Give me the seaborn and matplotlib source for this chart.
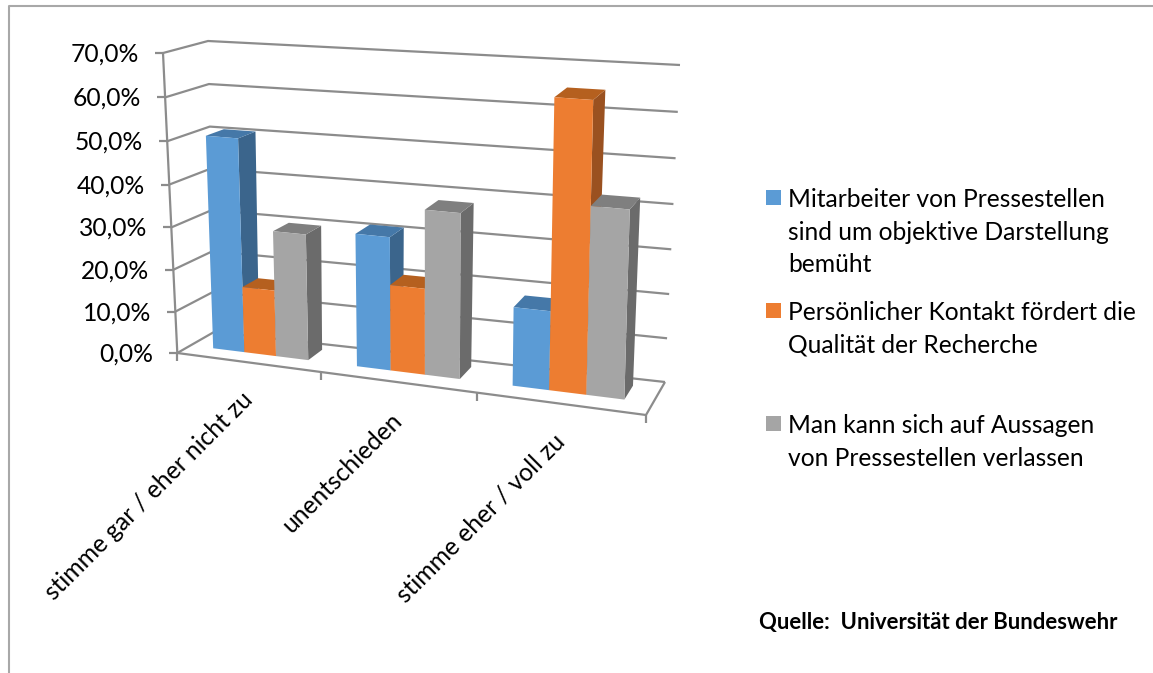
import numpy as np
import pandas as pd
import seaborn as sns
import matplotlib
matplotlib.use("Agg")
import matplotlib.pyplot as plt
from matplotlib.lines import Line2D
from matplotlib.patches import Polygon, Rectangle
from matplotlib.transforms import Transform, Affine2D

# Survey data (percent)
categories = ["stimme gar / eher nicht zu", "unentschieden", "stimme eher / voll zu"]
series_names = ["Mitarbeiter", "Kontakt", "Aussagen"]
mitarbeiter = [50.5, 31.0, 18.0]
kontakt = [15.7, 20.0, 65.0]
aussagen = [29.7, 38.0, 42.2]
y_ticks = [0, 10, 20, 30, 40, 50, 60, 70]
y_tick_labels = ["0,0%", "10,0%", "20,0%", "30,0%", "40,0%", "50,0%", "60,0%", "70,0%"]
legend_texts = [
    "Mitarbeiter von Pressestellen\nsind um objektive Darstellung\nbemüht",
    "Persönlicher Kontakt fördert die\nQualität der Recherche",
    "Man kann sich auf Aussagen\nvon Pressestellen verlassen",
]
source_text = "Quelle:  Universität der Bundeswehr"

# Front, side and top shades of each series
front_colors = ["#5B9BD5", "#ED7D31", "#A5A5A5"]
side_colors = ["#3B658C", "#9A5120", "#6B6B6B"]
top_colors = ["#4578A8", "#B5601F", "#7F7F7F"]
line_color = "#8C8C8C"

W, H = 1153, 673

# Pixel positions of the chart box corners, keyed (x, y, z) with 0 = left/bottom/front
box = {
    (0, 0, 0): (177.3, 353), (1, 0, 0): (646, 415),
    (0, 0, 1): (214, 332), (1, 0, 1): (665, 382),
    (0, 1, 0): (163, 53), (1, 1, 0): (654, 90),
    (0, 1, 1): (208, 41), (1, 1, 1): (680, 65),
}
X_PERSP, Y_PERSP = 0.886, 0.96
BAR_Z0, BAR_Z1 = 0.36, 0.79


def project(x, y, z):
    """Map category position, percent and depth onto image pixels."""
    x, y = np.asarray(x, float), np.asarray(y, float)
    t = (x + 0.5) / 3.0
    s = y / 70.0
    u = X_PERSP * t / (1 + (X_PERSP - 1) * t)
    v = Y_PERSP * s / (1 + (Y_PERSP - 1) * s)
    out = np.zeros(x.shape + (2,))
    for (i, j, k), corner in box.items():
        w = (u if i else 1 - u) * (v if j else 1 - v) * (z if k else 1 - z)
        out[..., 0] += w * corner[0]
        out[..., 1] += w * corner[1]
    return out


class DepthPlane(Transform):
    """Data coordinates on a plane of constant depth, projected to the canvas."""
    input_dims = output_dims = 2
    is_separable = False
    has_inverse = False

    def __init__(self, z):
        super().__init__()
        self.z = z

    def transform_non_affine(self, values):
        p = project(values[:, 0], values[:, 1], self.z)
        p[:, 1] = H - p[:, 1]
        return p


sns.set_theme(style="white")
plt.rcParams["font.family"] = ["Lato", "DejaVu Sans"]
TEXT_SIZE = 17.7

fig = plt.figure(figsize=(W / 100, H / 100), dpi=100, facecolor="white")
ax = fig.add_axes([0, 0, 1, 1])
pixels = Affine2D().scale(1, -1).translate(0, H)

frame = pd.DataFrame({
    "Antwort": categories * 3,
    "Aussage": np.repeat(series_names, 3),
    "Anteil": mitarbeiter + kontakt + aussagen,
})
sns.barplot(data=frame, x="Antwort", y="Anteil", hue="Aussage",
            order=categories, hue_order=series_names,
            palette=front_colors, width=0.67, saturation=1,
            legend=False, ax=ax, linewidth=0, err_kws={"linewidth": 0})
ax.set_xlim(-0.5, 2.5)
ax.set_ylim(0, 70)
ax.axis("off")


def draw_line(points, z=3, lw=1.6, color=line_color):
    pts = np.array(points)
    ax.add_line(Line2D(pts[:, 0], pts[:, 1], transform=pixels, color=color,
                       lw=lw, zorder=z, clip_on=False, solid_capstyle="butt"))


# Walls, floor and axis ticks
for tick, label in zip(y_ticks, y_tick_labels):
    a = project(-0.5, tick, 0)
    b = project(-0.5, tick, 1)
    c = project(2.5, tick, 1)
    draw_line([a, b, c])
    draw_line([(a[0] - 8, a[1]), a])
    ax.text(a[0] - 24, H - a[1] - 1, label, transform=None, fontsize=TEXT_SIZE,
            ha="right", va="center", color="black")

draw_line([project(-0.5, 70, 0), project(-0.5, 0, 0), project(2.5, 0, 0), project(2.5, 0, 1)])
for pos in [-0.5, 0.5, 1.5, 2.5]:
    p = project(pos, 0, 0)
    draw_line([p, (p[0], p[1] + 8)])

# Category labels, slanted under the middle of each group
for pos, label in enumerate(categories):
    p = project(pos, 0, 0)
    ax.text(p[0] + 1, H - (p[1] + 34), label, transform=None, fontsize=TEXT_SIZE,
            rotation=45, rotation_mode="anchor", ha="right", va="center", color="black")

# Seaborn's bars become the front faces; sides and tops are derived from them
bars = [b for b in ax.patches if isinstance(b, Rectangle)]
front = DepthPlane(BAR_Z0)
bars_sorted = sorted(bars, key=lambda b: b.get_x())
for order, bar in enumerate(bars_sorted):
    series = order % 3
    x0, x1 = bar.get_x(), bar.get_x() + bar.get_width()
    val = bar.get_height()
    base = 10 + order * 3
    bar.set_transform(front)
    bar.set_clip_on(False)
    bar.set_zorder(base + 2)
    side = [project(x1, 0, BAR_Z0), project(x1, val, BAR_Z0),
            project(x1, val, BAR_Z1), project(x1, 0, BAR_Z1)]
    top = [project(x0, val, BAR_Z0), project(x1, val, BAR_Z0),
           project(x1, val, BAR_Z1), project(x0, val, BAR_Z1)]
    ax.add_patch(Polygon(side, closed=True, transform=pixels, facecolor=side_colors[series],
                         edgecolor="none", zorder=base, clip_on=False))
    ax.add_patch(Polygon(top, closed=True, transform=pixels, facecolor=top_colors[series],
                         edgecolor="none", zorder=base + 1, clip_on=False))

# Legend column
legend_tops = [190, 303, 416]
for color, text, top_y in zip(front_colors, legend_texts, legend_tops):
    ax.add_patch(Rectangle((766, top_y), 15, 15, transform=pixels, facecolor=color,
                           edgecolor="none", clip_on=False, zorder=5))
    ax.text(788, H - (top_y - 2), text, transform=None, fontsize=TEXT_SIZE, linespacing=1.5,
            ha="left", va="top", color="black")

ax.text(759, H - 622, source_text, transform=None, fontsize=15.9, fontweight="bold",
        ha="left", va="center", color="black")

# Outer chart border along the top and left
draw_line([(9, H), (9, 6), (W, 6)], z=1, lw=1.5, color="#A8A8A8")

fig.savefig("out.png", dpi=100)
